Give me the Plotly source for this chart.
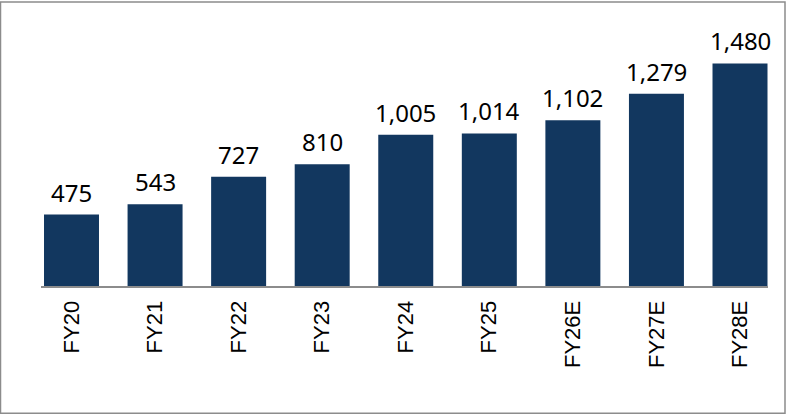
import plotly.graph_objects as go

# values
years = ["FY20", "FY21", "FY22", "FY23", "FY24", "FY25", "FY26E", "FY27E", "FY28E"]
values = [475, 543, 727, 810, 1005, 1014, 1102, 1279, 1480]
labels = [f"{v:,}" for v in values]

W, H = 787, 415
m_l, m_r, m_t, m_b = 41, 19, 10, 128.5

fig = go.Figure()
fig.add_trace(go.Bar(
    x=years, y=values,
    marker=dict(color="#12375f", line=dict(width=0)),
    hoverinfo="x+y",
))

# data labels above bars
for yr, v, lab in zip(years, values, labels):
    fig.add_annotation(x=yr, y=v, text=lab, showarrow=False,
                       yanchor="bottom", yshift=4,
                       font=dict(family="Noto Sans", size=24, color="black"))

fig.update_layout(
    width=W, height=H,
    margin=dict(l=m_l, r=m_r, t=m_t, b=m_b, pad=0),
    paper_bgcolor="white", plot_bgcolor="white",
    bargap=0.342,
    showlegend=False,
    xaxis=dict(
        type="category", range=[-0.365, 8.335],
        showline=True, linecolor="#8c8c8c", linewidth=2,
        ticks="", tickangle=-90, ticklabelstandoff=4,
        tickfont=dict(family="Liberation Sans", size=22, color="black"),
        showgrid=False, zeroline=False,
    ),
    yaxis=dict(range=[0, 1835], visible=False, showgrid=False),
)

# outer border round the whole picture
pw = W - m_l - m_r
ph = H - m_t - m_b
fig.add_shape(type="rect", xref="paper", yref="paper",
              x0=(0.5 - m_l) / pw, x1=(785 - m_l) / pw,
              y0=(H - 414 - m_b) / ph, y1=(H - 2 - m_b) / ph,
              line=dict(color="#8c8c8c", width=1.5), layer="below")

fig.write_html("out.html", config={"displayModeBar": False},
               post_script="document.body.style.margin='0';document.body.style.overflow='hidden';")
